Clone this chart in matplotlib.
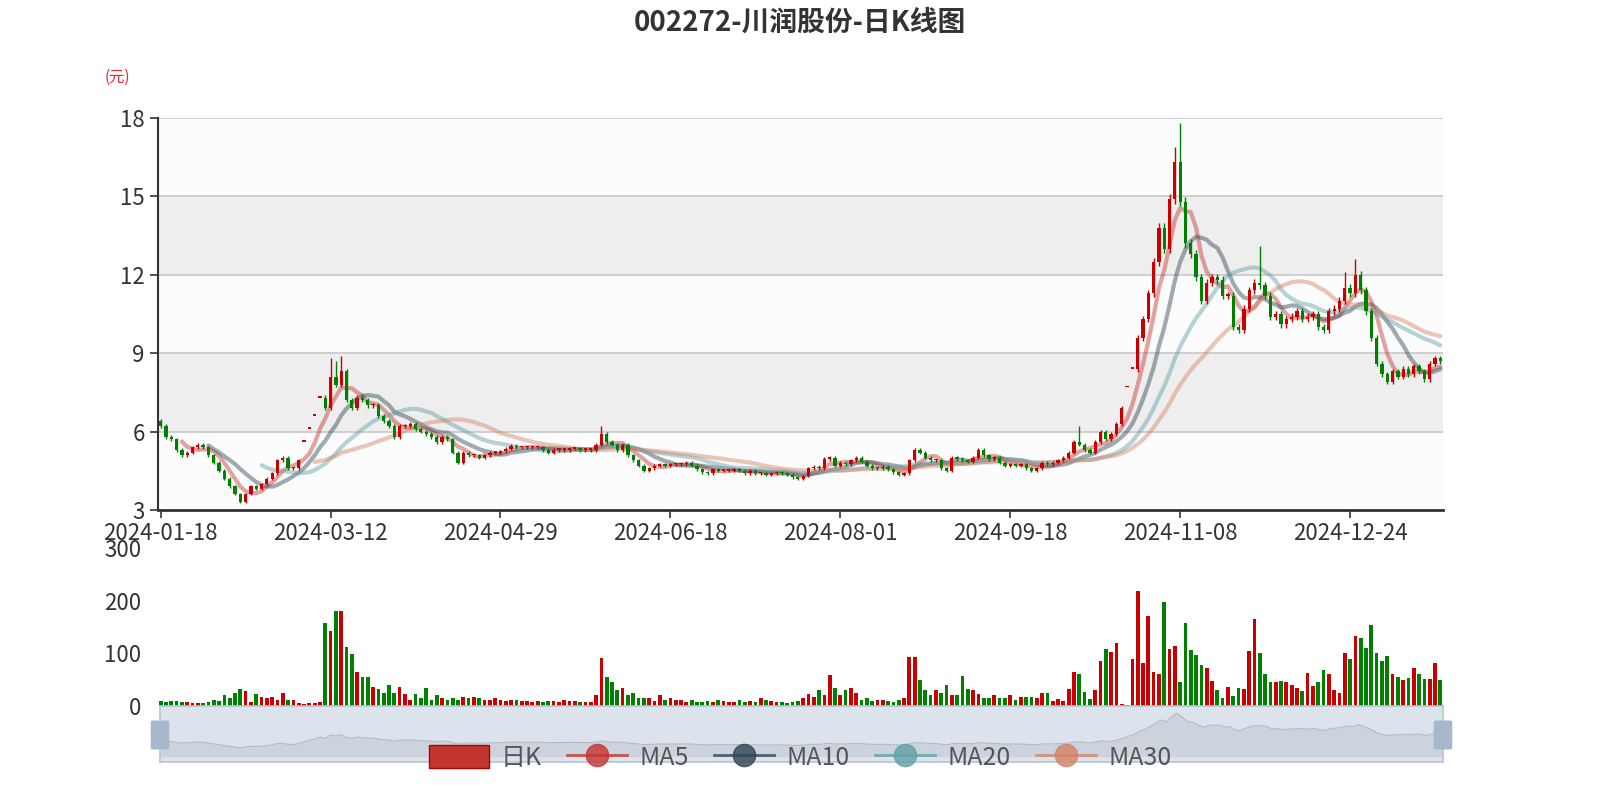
import matplotlib
matplotlib.use("Agg")
import matplotlib.pyplot as plt
from matplotlib.lines import Line2D
from matplotlib.patches import Patch, FancyBboxPatch
import numpy as np

plt.rcParams['font.family'] = ['Noto Sans CJK SC', 'DejaVu Sans']

title = "002272-川润股份-日K线图"
tick_labels = ["2024-01-18", "2024-03-12", "2024-04-29", "2024-06-18",
               "2024-08-01", "2024-09-18", "2024-11-08", "2024-12-24"]
tick_step = 32

closes = [
    6.2, 5.8, 5.7, 5.3, 5.1, 5.2, 5.4, 5.5, 5.4, 5.1,
    4.8, 4.5, 4.2, 3.9, 3.6, 3.3, 3.6, 3.9, 3.8, 4.0,
    4.2, 4.4, 4.9, 5.0, 4.6, 4.6, 4.9, 5.6, 6.1, 6.6,
    7.3, 6.9, 8.1, 7.8, 8.3, 7.2, 6.9, 7.3, 7.2, 7.0,
    7.0, 6.6, 6.4, 6.2, 5.8, 6.2, 6.2, 6.3, 6.1, 6.0,
    5.9, 5.8, 5.6, 5.8, 5.7, 5.2, 4.8, 5.2, 5.1, 5.1,
    5.0, 5.1, 5.2, 5.2, 5.25, 5.35, 5.45, 5.4, 5.4, 5.4,
    5.4, 5.4, 5.3, 5.2, 5.3, 5.3, 5.3, 5.35, 5.35, 5.3,
    5.3, 5.3, 5.5, 5.9, 5.6, 5.5, 5.3, 5.5, 5.1, 4.9,
    4.7, 4.5, 4.6, 4.7, 4.75, 4.7, 4.75, 4.75, 4.75, 4.8,
    4.7, 4.55, 4.45, 4.4, 4.55, 4.5, 4.5, 4.5, 4.55, 4.5,
    4.4, 4.5, 4.4, 4.4, 4.35, 4.4, 4.45, 4.4, 4.35, 4.25,
    4.2, 4.3, 4.6, 4.65, 4.6, 4.95, 5.0, 4.7, 4.8, 4.75,
    4.9, 5.0, 4.85, 4.7, 4.6, 4.6, 4.65, 4.55, 4.45, 4.35,
    4.4, 4.9, 5.3, 5.2, 5.0, 4.9, 4.9, 4.6, 4.5, 5.0,
    4.95, 4.9, 4.85, 5.0, 5.3, 5.1, 4.95, 5.0, 4.8, 4.7,
    4.75, 4.7, 4.75, 4.6, 4.5, 4.6, 4.8, 4.75, 4.8, 4.9,
    5.0, 5.2, 5.6, 5.5, 5.3, 5.2, 5.6, 6.0, 5.7, 5.9,
    6.3, 6.9, 7.7, 8.4, 9.6, 10.3, 11.3, 12.5, 13.8, 13.0,
    14.9, 16.3, 14.8, 13.2, 12.8, 11.9, 11.0, 11.7, 11.9, 11.8,
    11.2, 11.2, 10.0, 9.9, 10.7, 11.4, 11.7, 11.6, 11.2, 10.4,
    10.5, 10.1, 10.3, 10.4, 10.6, 10.3, 10.4, 10.5, 10.0, 9.9,
    10.6, 10.7, 11.0, 11.5, 11.3, 12.0, 11.4, 10.6, 9.6, 8.6,
    8.2, 7.9, 8.3, 8.1, 8.4, 8.2, 8.5, 8.3, 8.0, 8.6,
    8.8, 8.7,
]
first_open = 6.4
# one-price (limit) days drawn as dots
flat_days = [27, 28, 29, 30, 182, 183]
# notable intraday highs
spike_highs = {32: 8.8, 33: 8.7, 34: 8.9, 83: 6.2, 173: 6.2, 191: 16.9, 192: 17.8,
               207: 13.1, 223: 12.1, 225: 12.6}

volumes = [
    10, 7, 9, 9, 7, 7, 6, 6, 6, 8, 12, 10, 20, 15, 25, 33,
    28, 8, 22, 18, 15, 18, 12, 25, 12, 12, 5, 3, 5, 5, 8,
    158, 143, 180, 180, 112, 98, 65, 55, 55, 36,
    32, 25, 40, 25, 36, 22, 12, 23, 15, 35, 12, 20, 15, 12, 15, 12, 18, 15, 18, 15,
    12, 12, 15, 12, 10, 12, 12, 10, 10, 8, 10, 8, 10, 10, 8, 12, 10, 10, 8, 8,
    8, 20, 92, 55, 45, 30, 35, 20, 25, 15,
    15, 15, 10, 20, 12, 15, 12, 12, 8, 12, 8, 8, 10, 8, 12, 10, 8, 8, 12, 8,
    10, 8, 15, 12, 10, 8, 8, 5, 8, 10,
    15, 22, 18, 30, 20, 58, 35, 20, 30, 35,
    25, 12, 15, 10, 12, 12, 10, 8, 12, 15,
    93, 93, 50, 30, 20, 30, 25, 40, 20, 20,
    57, 32, 30, 22, 15, 15, 20, 15, 15, 20,
    12, 18, 18, 18, 15, 25, 25,
    9, 14, 10, 33, 64, 61, 26, 13, 30, 85,
    108, 102, 120, 3, 1, 89, 218, 81, 171, 64,
    60, 197, 108, 113, 46, 158, 106, 96, 77, 73,
    47, 30, 15, 37, 19, 34, 32,
    105, 165, 100, 60, 45, 45, 48, 45, 40, 35,
    28, 62, 38, 45, 68, 60, 30, 25, 100, 90,
    133, 130, 110, 153, 100, 85, 95, 60, 55, 50,
    53, 73, 60, 52, 52, 82, 50,
]

closes = np.array(closes, dtype=float)
n = len(closes)
volumes = np.array(volumes[:n], dtype=float)
if len(volumes) < n:
    volumes = np.concatenate([volumes, np.full(n - len(volumes), volumes[-1])])
x = np.arange(n)
opens = np.concatenate([[first_open], closes[:-1]])
for d in flat_days:
    opens[d] = closes[d]
highs = np.maximum(opens, closes) * 1.012
lows = np.minimum(opens, closes) * 0.988
for d, h in spike_highs.items():
    highs[d] = h
for d in flat_days:
    highs[d] = lows[d] = closes[d]

UP, DOWN = '#c80000', '#008000'
up = closes >= opens
colors = np.where(up, UP, DOWN)

fig = plt.figure(figsize=(16, 8), dpi=100)
fig.patch.set_facecolor('white')
fig.text(0.5, 0.972, title, ha='center', va='center', fontsize=20, fontweight='bold', color='#333333')

ax = fig.add_axes([158/1600, 1-510/800, 1285/1600, 392/800])
bands = [(3, 6, '#fcfcfc'), (6, 9, '#eeeeee'), (9, 12, '#fcfcfc'), (12, 15, '#eeeeee'), (15, 18, '#fcfcfc')]
for lo, hi, c in bands:
    ax.axhspan(lo, hi, color=c, zorder=0, lw=0)
for v in [6, 9, 12, 15, 18]:
    ax.axhline(v, color='#c8c8c8', lw=1.2, zorder=1)

ma_specs = [(5, '#c23531'), (10, '#2f4554'), (20, '#61a0a8'), (30, '#d48265')]
for w, c in ma_specs:
    ma = np.convolve(closes, np.ones(w) / w, mode='valid')
    ax.plot(x[w-1:], ma, color=c, alpha=0.45, lw=3, zorder=3, solid_capstyle='round')

ax.vlines(x, lows, highs, colors=colors, lw=1, zorder=4)
body = np.abs(closes - opens)
body = np.maximum(body, 0.06)
ax.bar(x, body, bottom=np.minimum(opens, closes), width=0.62, color=colors, zorder=5, lw=0)

ax.set_xlim(-0.5, n - 0.5)
ax.set_ylim(3, 18)
ax.set_yticks([3, 6, 9, 12, 15, 18])
ax.set_xticks(np.arange(0, n, tick_step)[:len(tick_labels)])
ax.set_xticklabels(tick_labels)
ax.tick_params(axis='both', labelsize=16, colors='#333333', length=6, width=1.2)
ax.tick_params(axis='x', pad=3)
for s in ['top', 'right']:
    ax.spines[s].set_visible(False)
ax.spines['bottom'].set_linewidth(2)
ax.spines['left'].set_linewidth(1.5)
ax.spines['bottom'].set_color('#333333')
ax.spines['left'].set_color('#333333')
fig.text(117/1600, 1-77/800, "(元)", color='#e8262d', fontsize=11, ha='center', va='center')

axv = fig.add_axes([158/1600, 1-706/800, 1285/1600, 158/800])
axv.bar(x, volumes, width=0.7, color=colors, lw=0)
axv.set_xlim(-0.5, n - 0.5)
axv.set_ylim(0, 300)
axv.set_yticks([0, 100, 200, 300])
axv.set_xticks([])
axv.tick_params(axis='y', labelsize=16, colors='#333333', length=0, pad=12)
for s in axv.spines.values():
    s.set_visible(False)

axs = fig.add_axes([160/1600, 1-762/800, 1283/1600, 56/800])
axs.set_facecolor('#dde3ec')
axs.fill_between(x, closes, 0, color='#c9cfda', alpha=0.8, lw=0)
axs.plot(x, closes, color='#b4bac6', lw=0.8)
axs.set_xlim(0, n - 1)
axs.set_ylim(-2, 19)
axs.set_xticks([]); axs.set_yticks([])
for s in axs.spines.values():
    s.set_color('#b8c4d4'); s.set_linewidth(1.2)
for hx in [160, 1443]:
    fig.patches.append(FancyBboxPatch(((hx-7)/1600, 1-748/800), 14/1600, 26/800,
                                      boxstyle='round,pad=0.001', transform=fig.transFigure,
                                      fc='#a7b7cc', ec='#a7b7cc', zorder=10))

handles = [Patch(facecolor='#c23531', edgecolor='#b00000')]
labels = ['日K']
for w, c in ma_specs:
    handles.append(Line2D([0], [0], color=c, lw=2, marker='o', markersize=16, alpha=0.8))
    labels.append('MA%d' % w)
leg = fig.legend(handles, labels, loc='center', bbox_to_anchor=(0.5, 1-758/800), ncol=5,
                 frameon=False, fontsize=18, handlelength=2.4, handleheight=1.0,
                 columnspacing=1.0, handletextpad=0.5, labelcolor='#555555')
leg.set_zorder(20)

fig.savefig('out.png', dpi=100, facecolor='white')
